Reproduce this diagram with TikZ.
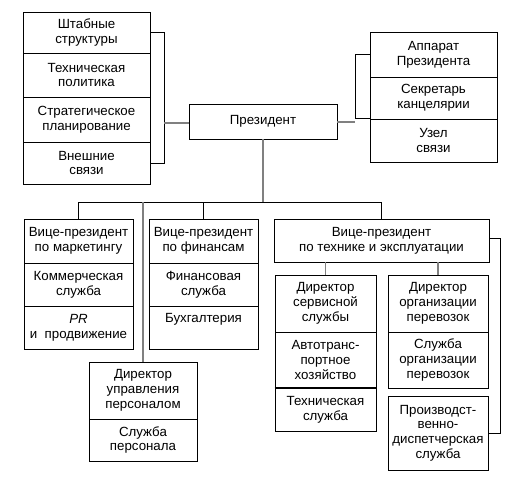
\documentclass[tikz,border=0pt]{standalone}
\usepackage{fontspec}
\setmainfont{Liberation Sans}
\begin{document}
\begin{tikzpicture}[x=1pt,y=-1pt,
  cell/.style={draw=black,line width=0.9pt,inner sep=0pt,align=center,
    font=\fontsize{13.3}{14.8}\selectfont},
  blk/.style={draw=black,line width=0.9pt},
  gry/.style={draw=black!50,line width=1.1pt}]
\useasboundingbox (0,0) rectangle (516,487);
% left stack
\node[cell,minimum width=127pt,minimum height=41pt] (ls1) at (86.5,32.5) {Штабные\\структуры};
\node[cell,minimum width=127pt,minimum height=44pt] (ls2) at (86.5,75) {Техническая\\политика};
\node[cell,minimum width=127pt,minimum height=45pt] (ls3) at (86.5,119.5) {Стратегическое\\планирование};
\node[cell,minimum width=127pt,minimum height=42pt] (ls4) at (86.5,163) {Внешние\\связи};
% president
\node[cell,minimum width=148pt,minimum height=35pt] (pres) at (263,121.5) {Президент};
% right stack
\node[cell,minimum width=127pt,minimum height=45pt] (rs1) at (433.5,54.5) {Аппарат\\Президента};
\node[cell,minimum width=127pt,minimum height=42pt] (rs2) at (433.5,98) {Секретарь\\канцелярии};
\node[cell,minimum width=127pt,minimum height=43pt] (rs3) at (433.5,140.5) {Узел\\связи};
% marketing
\node[cell,minimum width=109pt,minimum height=44pt] (m1) at (78.5,241) {Вице-президент\\по маркетингу};
\node[cell,minimum width=109pt,minimum height=43pt] (m2) at (78.5,284.5) {Коммерческая\\служба};
\node[cell,minimum width=109pt,minimum height=43pt] (m3) at (78.5,327.5) {\textit{PR}\\и~~продвижение};
% finance
\node[cell,minimum width=109pt,minimum height=44pt] (f1) at (203.5,241) {Вице-президент\\по финансам};
\node[cell,minimum width=109pt,minimum height=43pt] (f2) at (203.5,284.5) {Финансовая\\служба};
\node[cell,minimum width=109pt,minimum height=43pt,anchor=north] (f3) at (203.5,306) {Бухгалтерия\\\strut};
% HR
\node[cell,minimum width=108pt,minimum height=57pt] (h1) at (143,390.5) {Директор\\управления\\персоналом};
\node[cell,minimum width=108pt,minimum height=42pt] (h2) at (143,440) {Служба\\персонала};
% tech VP
\node[cell,minimum width=215pt,minimum height=43pt] (t) at (381.5,240.5) {Вице-президент\\по технике и эксплуатации};
\node[cell,minimum width=101pt,minimum height=57pt] (s1) at (325.5,303.5) {Директор\\сервисной\\службы};
\node[cell,minimum width=101pt,minimum height=56pt] (s2) at (325.5,360) {Автотранс-\\портное\\хозяйство};
\node[cell,minimum width=101pt,minimum height=43pt] (s3) at (325.5,409.5) {Техническая\\служба};
\draw[line width=2pt] (s3.north west) -- (s3.north east);
\node[cell,minimum width=100pt,minimum height=57pt] (p1) at (438,303.5) {Директор\\организации\\перевозок};
\node[cell,minimum width=100pt,minimum height=56pt] (p2) at (438,360) {Служба\\организации\\перевозок};
\node[cell,minimum width=100pt,minimum height=74pt] (p3) at (438,433) {Производст-\\венно-\\диспетчерская\\служба};
% brackets
\coordinate (lb) at (164,123);
\draw[blk] (ls1.east) -| (lb |- ls1.east) -- (lb |- ls4.east) -- (ls4.east);
\draw[gry] (lb) -- (lb -| pres.west);
\coordinate (rb) at (355,122);
\draw[blk] (rs1.west) -- (rb |- rs1.west) -- (rb |- rs3.north) -- (rs3.west |- rs3.north);
\draw[gry] (pres.east |- rb) -- (rb);
% bus
\coordinate (bus) at (263,202);
\draw[gry] (pres.south) -- (bus);
\draw[blk] (m1.north) -- (m1.north |- bus) -- (t.north |- bus) -- (t.north);
\draw[blk] (f1.north) -- (f1.north |- bus);
\draw[gry] (h1.north |- bus) -- (h1.north);
\draw[gry] (s1.north |- t.south) -- (s1.north);
\draw[gry] (p1.north |- t.south) -- (p1.north);
\coordinate (tb) at (500,238);
\draw[blk] (t.east |- tb) -- (tb) -- (tb |- p3.center) -- (p3.east);
\end{tikzpicture}
\end{document}
